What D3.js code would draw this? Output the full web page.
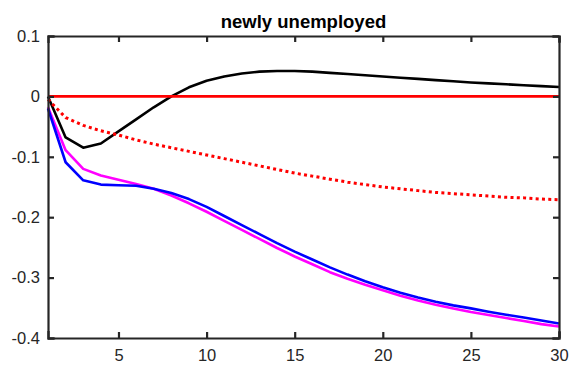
<!DOCTYPE html>
<html>
<head>
<meta charset="utf-8">
<script src="https://cdn.jsdelivr.net/npm/d3@7"></script>
<style>
  body { margin: 0; background: #fff; }
  svg { display: block; font-family: "Liberation Sans", Arial, sans-serif; }
</style>
</head>
<body>
<div id="chart-area"></div>
<script>
const periods = d3.range(1, 31);
const xTicks = [5, 10, 15, 20, 25, 30];
const yTicks = [0.1, 0, -0.1, -0.2, -0.3, -0.4];

const blackLine = [0, -0.068, -0.085, -0.078, -0.058, -0.038, -0.018, 0.0, 0.015, 0.026,
  0.033, 0.038, 0.041, 0.042, 0.042, 0.041, 0.039, 0.037, 0.035, 0.033,
  0.031, 0.029, 0.027, 0.025, 0.023, 0.0215, 0.020, 0.0185, 0.017, 0.0155];
const zeroLine = periods.map(() => 0);
const dottedLine = [-0.005, -0.035, -0.048, -0.057, -0.064, -0.072, -0.079, -0.085, -0.091, -0.097,
  -0.103, -0.109, -0.115, -0.121, -0.127, -0.132, -0.137, -0.142, -0.146, -0.150,
  -0.153, -0.156, -0.159, -0.161, -0.163, -0.165, -0.167, -0.168, -0.170, -0.171];
const magentaLine = [-0.018, -0.089, -0.120, -0.131, -0.138, -0.145, -0.153, -0.164, -0.177, -0.191,
  -0.206, -0.221, -0.236, -0.251, -0.265, -0.278, -0.291, -0.302, -0.312, -0.321,
  -0.330, -0.338, -0.345, -0.351, -0.357, -0.362, -0.367, -0.372, -0.377, -0.381];
const blueLine = [-0.020, -0.109, -0.139, -0.146, -0.147, -0.148, -0.153, -0.160, -0.170, -0.183,
  -0.198, -0.213, -0.228, -0.243, -0.257, -0.270, -0.283, -0.295, -0.306, -0.316,
  -0.325, -0.333, -0.340, -0.346, -0.351, -0.3565, -0.3615, -0.366, -0.371, -0.376];

const width = 571;
const height = 367;
const margin = { top: 36, right: 12, bottom: 29, left: 48 };
const innerW = width - margin.left - margin.right;
const innerH = height - margin.top - margin.bottom;
const axisColor = "#262626";

const svg = d3
  .select("#chart-area")
  .append("svg")
  .attr("width", width)
  .attr("height", height);

const x = d3.scaleLinear().domain([1, 30]).range([margin.left, margin.left + innerW]);
const y = d3.scaleLinear().domain([-0.4, 0.1]).range([margin.top + innerH, margin.top]);

const line = d3
  .line()
  .x((d, i) => x(periods[i]))
  .y((d) => y(d));

const series = [
  { values: blackLine, color: "#000000", dash: null },
  { values: zeroLine, color: "#ff0000", dash: null },
  { values: dottedLine, color: "#ff0000", dash: "3,3.3" },
  { values: magentaLine, color: "#ff00ff", dash: null },
  { values: blueLine, color: "#0000ff", dash: null },
];

const plot = svg.append("g");
plot
  .selectAll("path")
  .data(series)
  .join("path")
  .attr("d", (d) => line(d.values))
  .attr("fill", "none")
  .attr("stroke", (d) => d.color)
  .attr("stroke-width", (d) => (d.dash ? 3 : 2.6))
  .attr("stroke-dasharray", (d) => d.dash)
  .attr("stroke-linejoin", "round");

// box axes with inward ticks
const tickLen = 6;
const fmtY = (d) => (d === 0 ? "0" : d3.format(".1f")(d).replace("−", "-"));

const axisBottomG = svg
  .append("g")
  .attr("transform", `translate(0, ${margin.top + innerH})`)
  .call(d3.axisBottom(x).tickValues(xTicks).tickSize(-tickLen).tickPadding(11).tickFormat(d3.format("d")));
const axisTopG = svg
  .append("g")
  .attr("transform", `translate(0, ${margin.top})`)
  .call(d3.axisTop(x).tickValues(xTicks).tickSize(-tickLen).tickFormat(""));
const axisLeftG = svg
  .append("g")
  .attr("transform", `translate(${margin.left}, 0)`)
  .call(d3.axisLeft(y).tickValues(yTicks).tickSize(-tickLen).tickPadding(8).tickFormat(fmtY));
const axisRightG = svg
  .append("g")
  .attr("transform", `translate(${margin.left + innerW}, 0)`)
  .call(d3.axisRight(y).tickValues(yTicks).tickSize(-tickLen).tickFormat(""));

[axisBottomG, axisTopG, axisLeftG, axisRightG].forEach((g) => {
  g.select(".domain").attr("stroke", axisColor).attr("stroke-width", 2.2);
  g.selectAll(".tick line").attr("stroke", axisColor).attr("stroke-width", 2.2);
  g.selectAll(".tick text")
    .attr("fill", axisColor)
    .style("font-size", "16.5px")
    .style("font-family", "'Liberation Sans', Arial, sans-serif");
});
svg.selectAll(".domain").attr("stroke-linecap", "square");

svg
  .append("text")
  .attr("x", margin.left + innerW / 2)
  .attr("y", 28)
  .attr("text-anchor", "middle")
  .style("font-size", "18.5px")
  .style("font-weight", "bold")
  .style("fill", "#000")
  .text("newly unemployed");
</script>
</body>
</html>
